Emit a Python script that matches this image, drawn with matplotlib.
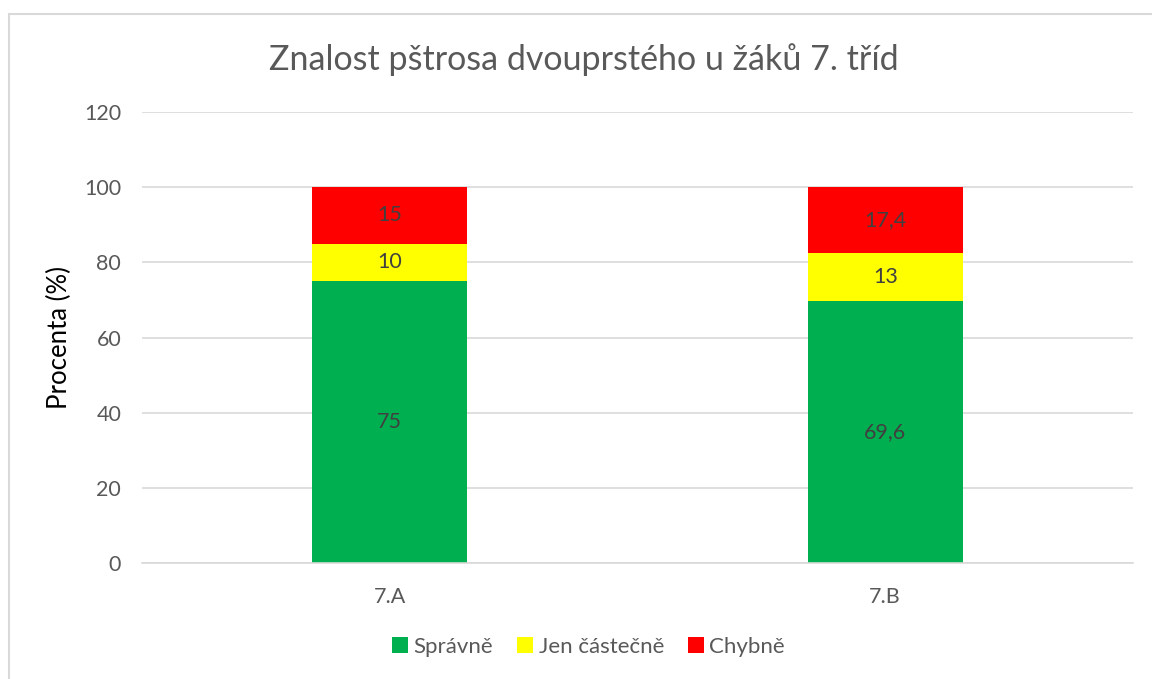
import matplotlib.pyplot as plt
from matplotlib.patches import Rectangle

# Data
classes = ["7.A", "7.B"]
spravne = [75, 69.6]
castecne = [10, 13]
chybne = [15, 17.4]
series_names = ["Správně", "Jen částečně", "Chybně"]
colors = ["#00B050", "#FFFF00", "#FF0000"]

plt.rcParams['font.family'] = ['Lato', 'DejaVu Sans']

fig = plt.figure(figsize=(11.52, 6.79), dpi=100)
ax = fig.add_axes([142 / 1152, 1 - 563 / 679, (1133 - 142) / 1152, (563 - 112) / 679])

x = range(len(classes))
width = 0.313
bottom = [0] * len(classes)
for vals, name, col in zip([spravne, castecne, chybne], series_names, colors):
    bars = ax.bar(x, vals, width, bottom=bottom, color=col, label=name, zorder=2)
    labels = [f"{v:g}".replace(".", ",") for v in vals]
    ax.bar_label(bars, labels=labels, label_type='center', color='#404040', fontsize=15.5)
    bottom = [b + v for b, v in zip(bottom, vals)]

ax.set_xlim(-0.5, 1.5)
ax.set_ylim(0, 120)
ax.set_yticks(range(0, 121, 20))
ax.set_xticks(list(x))
ax.set_xticklabels(classes)
ax.grid(axis='y', color='#D9D9D9', linewidth=1.2, zorder=0)
ax.set_axisbelow(True)
for s in ['top', 'right', 'left']:
    ax.spines[s].set_visible(False)
ax.spines['bottom'].set_color('#D9D9D9')
ax.spines['bottom'].set_linewidth(1.2)
ax.tick_params(axis='both', length=0, colors='#595959', labelsize=15.5)
ax.tick_params(axis='y', pad=15)
ax.tick_params(axis='x', pad=17)
ax.set_ylabel("Procenta (%)", fontsize=18.5, color='black', labelpad=9)

fig.text(0.507, 1 - 60 / 679, "Znalost pštrosa dvouprstého u žáků 7. tříd",
         ha='center', va='center', fontsize=24.5, color='#595959')

leg = ax.legend(loc='center', bbox_to_anchor=(0.511, 1 - 647 / 679), bbox_transform=fig.transFigure,
                ncol=3, frameon=False, fontsize=16, handlelength=0.7, handleheight=0.7,
                columnspacing=1.1, handletextpad=0.25)
for t in leg.get_texts():
    t.set_color('#595959')

# chart border
fig.patches.append(Rectangle((9 / 1152, -0.05), 1.1, 1 - 14 / 679 + 0.05, transform=fig.transFigure,
                             fill=False, edgecolor='#D9D9D9', linewidth=1.5))

fig.savefig("out.png", dpi=100)
